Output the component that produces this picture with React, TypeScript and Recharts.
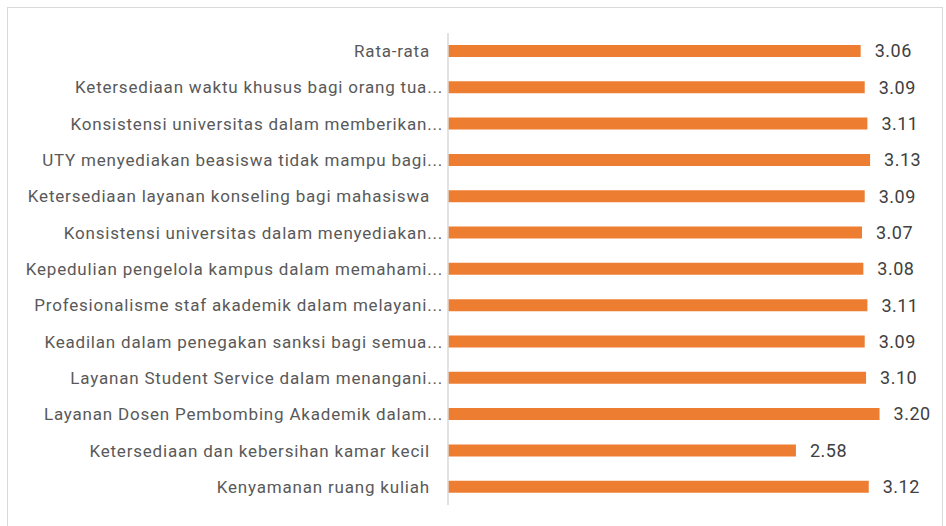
import React from "react";
import { BarChart, Bar, XAxis, YAxis, LabelList } from "recharts";

const categories = [
  "Rata-rata",
  "Ketersediaan waktu khusus bagi orang tua...",
  "Konsistensi universitas dalam memberikan...",
  "UTY menyediakan beasiswa tidak mampu bagi...",
  "Ketersediaan layanan konseling bagi mahasiswa",
  "Konsistensi universitas dalam menyediakan...",
  "Kepedulian pengelola kampus dalam memahami...",
  "Profesionalisme staf akademik dalam melayani...",
  "Keadilan dalam penegakan sanksi bagi semua...",
  "Layanan Student Service dalam menangani...",
  "Layanan Dosen Pembombing Akademik dalam...",
  "Ketersediaan dan kebersihan kamar kecil",
  "Kenyamanan ruang kuliah",
];

const scores = [3.06, 3.09, 3.11, 3.13, 3.09, 3.07, 3.08, 3.11, 3.09, 3.1, 3.2, 2.58, 3.12];

const data = categories.map((name, i) => ({ name, score: scores[i] }));

const FONT = "Roboto, 'Open Sans', sans-serif";

const CategoryTick = (props: any) => {
  const { x, y, payload } = props;
  const text: string = payload.value;
  // labels that were cut off by Excel sit closer to the axis
  const dx = text.endsWith("...") ? 0 : -13;
  return (
    <text
      x={x}
      y={y}
      dx={dx}
      dy={6}
      textAnchor="end"
      fill="#595959"
      fontSize={17}
      letterSpacing={0.8}
      fontFamily={FONT}
    >
      {text}
    </text>
  );
};

export default function App() {
  return (
    <div
      style={{
        position: "fixed",
        left: 7,
        top: 7,
        width: 934,
        height: 530,
        border: "1px solid #d9d9d9",
        background: "#fff",
      }}
    >
      <BarChart
        width={934}
        height={530}
        data={data}
        layout="vertical"
        margin={{ top: 25, right: 22, bottom: 33, left: 0 }}
      >
        <XAxis type="number" domain={[0, 3.5]} hide />
        <YAxis
          type="category"
          dataKey="name"
          width={440}
          tickLine={false}
          tickSize={0}
          tickMargin={5}
          axisLine={{ stroke: "#d9d9d9", strokeWidth: 1.5 }}
          tick={<CategoryTick />}
          interval={0}
        />
        <Bar dataKey="score" fill="#ED7D31" barSize={12} isAnimationActive={false}>
          <LabelList
            dataKey="score"
            position="right"
            offset={14}
            formatter={(v: any) => Number(v).toFixed(2)}
            fill="#404040"
            fontSize={18}
            letterSpacing={0.5}
            fontFamily={FONT}
          />
        </Bar>
      </BarChart>
    </div>
  );
}
